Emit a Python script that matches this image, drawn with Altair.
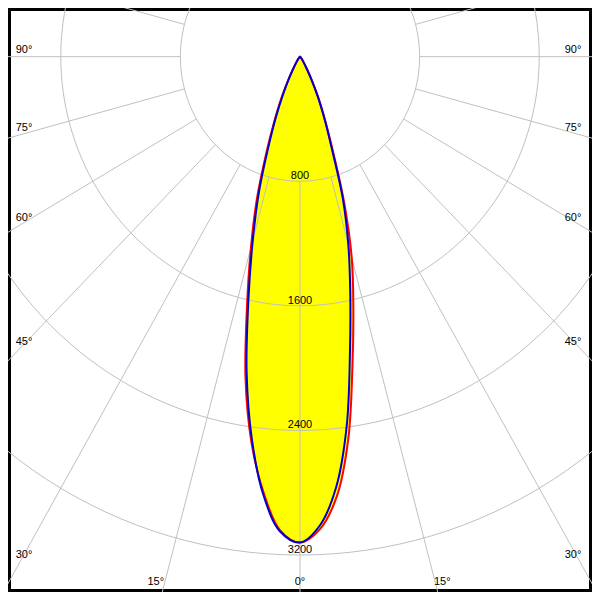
import altair as alt
import pandas as pd
import numpy as np

# ---- data (cd values per gamma angle) ----
gamma = [0, 2.5, 5, 7.5, 10, 12.5, 15, 17.5, 20, 22.5, 25, 27.5, 30, 35, 40, 45, 50, 60, 70, 80, 90]
blue_left = [3120, 3052, 2822, 2472, 2056, 1593, 1220, 915, 620, 420, 270, 165, 95, 35, 14, 7, 4, 2, 1, 0, 0]
blue_right = [3120, 3015, 2775, 2393, 1925, 1553, 1249, 950, 610, 420, 280, 165, 95, 35, 14, 7, 4, 2, 1, 0, 0]
red_left = [3120, 3045, 2807, 2494, 2099, 1637, 1267, 960, 660, 450, 300, 175, 100, 36, 14, 7, 4, 2, 1, 0, 0]
red_right = [3120, 3038, 2833, 2476, 2020, 1649, 1337, 982, 640, 430, 285, 168, 97, 35, 14, 7, 4, 2, 1, 0, 0]

ring_values = [800, 1600, 2400, 3200]
ring_labels = ["800", "1600", "2400", "3200"]
spoke_angles = list(range(0, 360, 15))
side_label_angles = [90, 75, 60, 45, 30]
bottom_label_angles = [15, 0, 15]
bottom_label_sides = [-1, 0, 1]

# view extent in cd
XMAX = 1953.125
YMIN, YMAX = -3437.5, 312.5
W = H = 584

rows = []
for plane, left, right in (("red", red_left, red_right), ("blue", blue_left, blue_right)):
    for g, v in zip(gamma, left):
        rows.append({"plane": plane, "side": -1, "gamma": g, "I": v})
    for g, v in zip(gamma[1:], right[1:]):
        rows.append({"plane": plane, "side": 1, "gamma": g, "I": v})
curves = pd.DataFrame(rows)

ring_rows = []
for r in ring_values:
    for t in np.arange(0, 362, 2):
        ring_rows.append({"r": r, "t": float(t)})
rings = pd.DataFrame(ring_rows)

spokes = pd.DataFrame({"a": spoke_angles, "r0": 800, "r1": 5000})
rlabels = pd.DataFrame({"r": ring_values, "label": ring_labels})

side_rows = []
for a in side_label_angles:
    side_rows.append({"a": a, "side": -1, "label": f"{a}°"})
    side_rows.append({"a": a, "side": 1, "label": f"{a}°"})
side_labels = pd.DataFrame(side_rows)
bottom_labels = pd.DataFrame({"a": bottom_label_angles, "side": bottom_label_sides,
                              "label": [f"{a}°" for a in bottom_label_angles]})

xs = alt.Scale(domain=[-XMAX, XMAX], nice=False, zero=False)
ys = alt.Scale(domain=[YMIN, YMAX], nice=False, zero=False)


def X(f="x"):
    return alt.X(f"{f}:Q", scale=xs, axis=None)


def Y(f="y"):
    return alt.Y(f"{f}:Q", scale=ys, axis=None)


curve_base = alt.Chart(curves).transform_calculate(
    x="datum.side * datum.I * sin(datum.gamma * PI / 180)",
    y="-datum.I * cos(datum.gamma * PI / 180)",
    k="datum.side * datum.gamma",
)

interp = "catmull-rom"

fill = curve_base.mark_line(filled=True, color="#ffff00", clip=True, interpolate=interp).encode(
    x=X(), y=Y(), order="k:Q", detail="plane:N"
)

grey = "#c0c0c0"
ring_layer = alt.Chart(rings).transform_calculate(
    x="datum.r * sin(datum.t * PI / 180)",
    y="-datum.r * cos(datum.t * PI / 180)",
).mark_line(color=grey, strokeWidth=1, clip=True).encode(
    x=X(), y=Y(), order="t:Q", detail="r:N"
)

spoke_layer = alt.Chart(spokes).transform_calculate(
    x="datum.r0 * sin(datum.a * PI / 180)",
    y="-datum.r0 * cos(datum.a * PI / 180)",
    x2="datum.r1 * sin(datum.a * PI / 180)",
    y2="-datum.r1 * cos(datum.a * PI / 180)",
).mark_rule(color=grey, strokeWidth=1, clip=True).encode(
    x=X(), y=Y(), x2="x2:Q", y2="y2:Q"
)

red_line = curve_base.transform_filter("datum.plane == 'red'").mark_line(
    color="#ff0000", strokeWidth=2, clip=True, interpolate=interp
).encode(x=X(), y=Y(), order="k:Q")

blue_line = curve_base.transform_filter("datum.plane == 'blue'").mark_line(
    color="#0000d0", strokeWidth=2, clip=True, interpolate=interp
).encode(x=X(), y=Y(), order="k:Q")

font = "Liberation Sans"
ring_text = alt.Chart(rlabels).transform_calculate(
    x="0", y="-datum.r"
).mark_text(font=font, fontSize=11, color="black", align="center", baseline="alphabetic", dy=-2).encode(
    x=X(), y=Y(), text="label:N"
)

xin = XMAX - 12 / 0.1536
left_text = alt.Chart(side_labels).transform_filter("datum.side == -1").transform_calculate(
    x=f"-{xin}",
    y=f"-{xin} * cos(datum.a * PI / 180) / sin(datum.a * PI / 180)",
).mark_text(font=font, fontSize=11, color="black", align="left", baseline="alphabetic", dx=-4, dy=-4).encode(
    x=X(), y=Y(), text="label:N"
)
right_text = alt.Chart(side_labels).transform_filter("datum.side == 1").transform_calculate(
    x=f"{xin}",
    y=f"-{xin} * cos(datum.a * PI / 180) / sin(datum.a * PI / 180)",
).mark_text(font=font, fontSize=11, color="black", align="right", baseline="alphabetic", dx=1, dy=-4).encode(
    x=X(), y=Y(), text="label:N"
)

yb = YMAX - 593 / 0.16
bl = alt.Chart(bottom_labels).transform_calculate(
    y=f"{yb}",
    x=f"datum.side * {-yb} * tan(datum.a * PI / 180)",
)
b_left = bl.transform_filter("datum.side == -1").mark_text(
    font=font, fontSize=11, color="black", align="right", baseline="alphabetic"
).encode(x=X(), y=Y(), text="label:N")
b_mid = bl.transform_filter("datum.side == 0").mark_text(
    font=font, fontSize=11, color="black", align="center", baseline="alphabetic", dx=0
).encode(x=X(), y=Y(), text="label:N")
b_right = bl.transform_filter("datum.side == 1").mark_text(
    font=font, fontSize=11, color="black", align="left", baseline="alphabetic", dx=-2
).encode(x=X(), y=Y(), text="label:N")

chart = alt.layer(
    fill, ring_layer, spoke_layer, red_line, blue_line,
    ring_text, left_text, right_text, b_left, b_mid, b_right
).properties(width=W, height=H, padding=0, background="white").configure_view(
    stroke="black", strokeWidth=6
)

chart.save("out.html", embed_options={"renderer": "svg", "actions": False})
